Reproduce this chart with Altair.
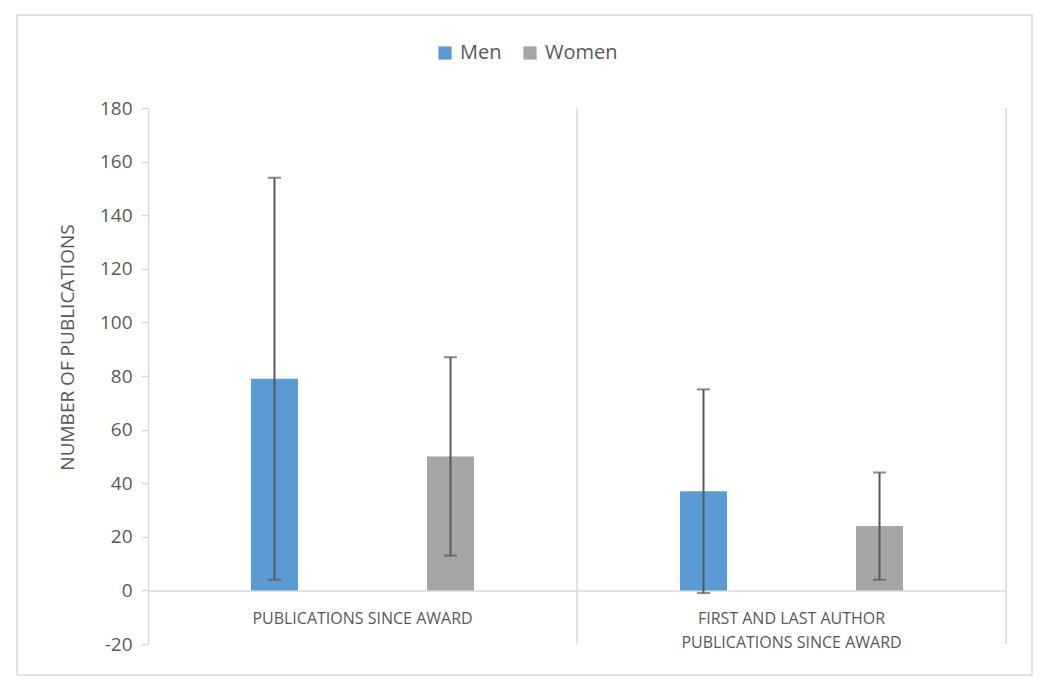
import altair as alt
import pandas as pd

categories = ["PUBLICATIONS SINCE AWARD", "FIRST AND LAST AUTHOR|PUBLICATIONS SINCE AWARD"]
genders = ["Men", "Women"]
men_values = [79, 37]
women_values = [50, 24]
men_err = [75, 38]
women_err = [37, 20]
y_ticks = [-20, 0, 20, 40, 60, 80, 100, 120, 140, 160, 180]

rows = []
for i, c in enumerate(categories):
    for g, vals, errs in (("Men", men_values, men_err), ("Women", women_values, women_err)):
        rows.append({"cat": c, "gender": g, "value": vals[i],
                     "lo": vals[i] - errs[i], "hi": vals[i] + errs[i]})
df = pd.DataFrame(rows)
sep_df = pd.DataFrame({"cat": categories})

W, H = 858, 536
FONT = "Open Sans"
TXT = "#595959"
LINE = "#D9D9D9"

x_scale = alt.Scale(domain=categories, paddingInner=0, paddingOuter=0)
xo_scale = alt.Scale(domain=genders, paddingInner=0.733, paddingOuter=0.585)
y_scale = alt.Scale(domain=[-20, 180], nice=False, zero=False)
color_scale = alt.Scale(domain=genders, range=["#5B9BD5", "#A5A5A5"])

x_axis = alt.Axis(title=None, offset=-H * 20 / 200, domainColor=LINE,
                  domainWidth=1.5, ticks=False, labelAngle=0,
                  bandPosition=0.5, labelAlign="center",
                  labelPadding=20, labelFontSize=16, labelColor=TXT,
                  labelFont=FONT, labelLineHeight=24,
                  labelExpr="split(datum.label, '|')", labelLimit=0)
y_axis = alt.Axis(title="NUMBER OF PUBLICATIONS", values=y_ticks, grid=False,
                  labelExpr="'' + datum.value",
                  domainColor=LINE, domainWidth=1.5, tickColor=LINE, tickWidth=1.5,
                  tickSize=7, labelPadding=9, labelFontSize=19, labelColor=TXT,
                  labelFont=FONT, titleFont=FONT, titleFontSize=19,
                  titleColor=TXT, titleFontWeight="normal", titleAngle=270,
                  titleAlign="center", titleBaseline="middle",
                  titleX=-81, titleY=239)

x_enc = alt.X("cat:N", scale=x_scale, sort=categories, axis=x_axis)
xo_enc = alt.XOffset("gender:N", scale=xo_scale, sort=genders)

base = alt.Chart(df)

bars = base.mark_bar().encode(
    x=x_enc,
    xOffset=xo_enc,
    y=alt.Y("value:Q", scale=y_scale, axis=y_axis),
    y2=alt.datum(0),
    color=alt.Color("gender:N", scale=color_scale, sort=genders,
                    legend=alt.Legend(title=None, orient="none", direction="horizontal",
                                      legendX=287, legendY=-65, symbolType="square",
                                      symbolSize=175, symbolStrokeWidth=0,
                                      labelFontSize=20, labelFont=FONT, labelColor=TXT,
                                      labelOffset=5, columnPadding=18)),
)

err_rule = base.mark_rule(color="#595959", strokeWidth=2).encode(
    x=x_enc, xOffset=xo_enc, y=alt.Y("lo:Q", scale=y_scale, axis=y_axis), y2="hi:Q",
)
cap_lo = base.mark_tick(color="#595959", thickness=2, size=13).encode(
    x=x_enc, xOffset=xo_enc, y=alt.Y("lo:Q", scale=y_scale, axis=y_axis),
)
cap_hi = base.mark_tick(color="#595959", thickness=2, size=13).encode(
    x=x_enc, xOffset=xo_enc, y=alt.Y("hi:Q", scale=y_scale, axis=y_axis),
)

seps = alt.Chart(sep_df).mark_rule(color=LINE, strokeWidth=1.5).encode(
    x=alt.X("cat:N", scale=x_scale, sort=categories, bandPosition=1, axis=x_axis),
    y=alt.datum(180, scale=y_scale, axis=y_axis),
    y2=alt.datum(-20),
)

border = alt.Chart(pd.DataFrame({"b": [0]})).mark_rect(
    fill=None, stroke=LINE, strokeWidth=1.5
).encode(
    x=alt.value(-131), x2=alt.value(884), y=alt.value(-93), y2=alt.value(567)
)

chart = alt.layer(border, seps, bars, err_rule, cap_lo, cap_hi).properties(
    width=W, height=H,
    autosize=alt.AutoSizeParams(type="none"),
    padding={"left": 140, "top": 100, "right": 30, "bottom": 40},
).configure(background="white").configure_view(strokeWidth=0)

chart.save("out.html", embed_options={"renderer": "svg", "actions": False})
